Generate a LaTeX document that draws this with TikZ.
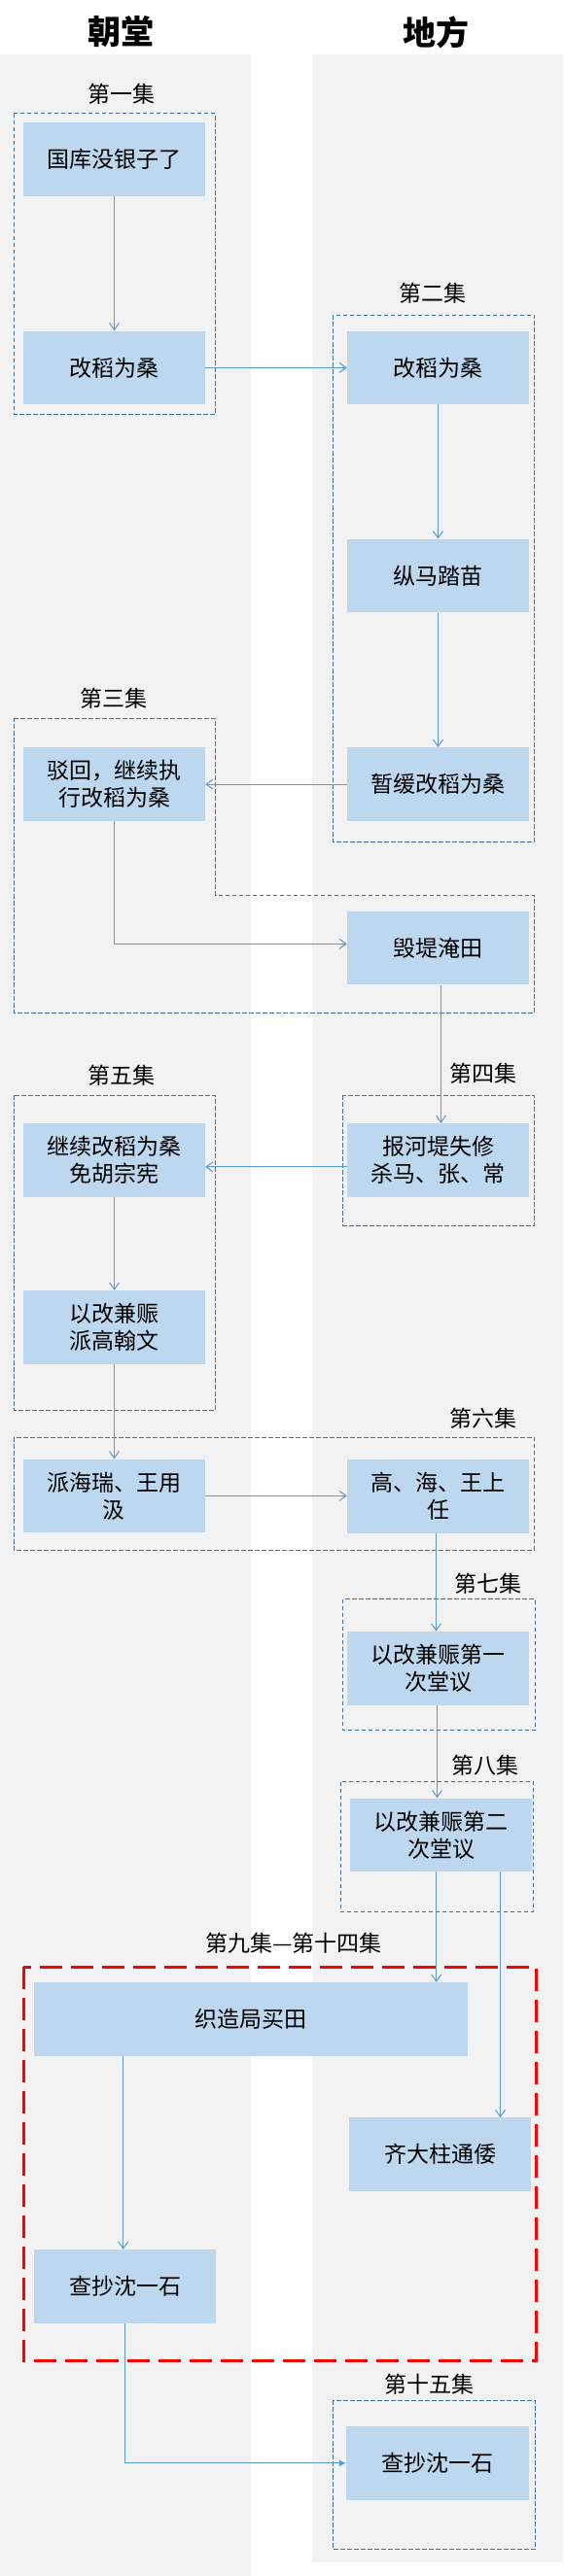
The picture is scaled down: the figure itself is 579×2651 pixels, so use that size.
\documentclass[tikz,border=0pt]{standalone}
\usepackage{fontspec}
\newfontfamily\cjk{Noto Sans CJK SC}
\usetikzlibrary{arrows.meta}
\definecolor{lanegray}{HTML}{F2F2F2}
\definecolor{boxblue}{HTML}{BDD7EE}
\definecolor{arrowblue}{HTML}{5B9BD5}
\definecolor{grpblue}{HTML}{41719C}
\tikzset{
  evbox/.style={fill=boxblue, draw=none, minimum width=187pt, minimum height=75.7pt, inner sep=0pt, align=center, font=\cjk\fontsize{23}{28}\selectfont},
  grp/.style={draw=grpblue, line width=1pt, dash pattern=on 4.5pt off 2.5pt},
  redgrp/.style={draw=red, line width=3pt, dash pattern=on 23pt off 9pt},
  flow/.style={draw=arrowblue, line width=1pt, -{Straight Barb[length=7pt,width=10pt]}},
  flowfill/.style={draw=arrowblue, line width=1pt, -{Latex[length=7pt,width=7pt]}},
  eplabel/.style={font=\cjk\fontsize{23}{28}\selectfont, inner sep=0pt},
  lanetitle/.style={font=\cjk\bfseries\fontsize{34}{40}\selectfont, inner sep=0pt},
  lane/.style={fill=lanegray, draw=none}
}
\begin{document}
\begin{tikzpicture}[x=1pt,y=-1pt]
\useasboundingbox (0,0) rectangle (579,2651);
\fill[white] (0,0) rectangle (579,2651);
% lanes
\path[lane] (0,56) rectangle (258,2651);
\path[lane] (320.5,56) rectangle (579,2636.7);
% titles
\node[lanetitle] (T1) at (124.5,33) {朝堂};
\node[lanetitle] (T2) at (448,33) {地方};
% group boxes
\draw[grp] (14.4,116.7) rectangle (221.6,426);
\draw[grp] (342,324) rectangle (549.5,866);
\draw[grp] (14.4,739.3) -- (221.6,739.3) -- (221.6,921) -- (549.5,921) -- (549.5,1042.3) -- (14.4,1042.3) -- cycle;
\draw[grp] (352.7,1127.3) rectangle (549.5,1261);
\draw[grp] (14.4,1127.3) rectangle (221.6,1451.3);
\draw[grp] (14.4,1479.3) rectangle (549.5,1595.3);
\draw[grp] (352.7,1645.7) rectangle (550.2,1780.7);
\draw[grp] (350.4,1833.7) rectangle (548.7,1967.3);
\draw[redgrp] (24,2024.3) rectangle (551,2429.3);
\draw[grp] (342.3,2470) rectangle (550.2,2623.3);
% episode labels
\node[eplabel] (L1) at (124.5,97) {第一集};
\node[eplabel] (L2) at (445,301.7) {第二集};
\node[eplabel] (L3) at (117.4,718.3) {第三集};
\node[eplabel] (L4) at (497.4,1105) {第四集};
\node[eplabel] (L5) at (124.5,1106.7) {第五集};
\node[eplabel] (L6) at (497.4,1459.3) {第六集};
\node[eplabel] (L7) at (502,1629.3) {第七集};
\node[eplabel] (L8) at (499,1816.7) {第八集};
\node[eplabel] (L9) at (302,2000) {第九集—第十四集};
\node[eplabel] (L15) at (441.3,2453.3) {第十五集};
% event boxes
\node[evbox] (A1) at (117.5,163.85) {国库没银子了};
\node[evbox] (A2) at (117.5,378.35) {改稻为桑};
\node[evbox] (B1) at (450.5,378.35) {改稻为桑};
\node[evbox] (B2) at (450.5,592.5) {纵马踏苗};
\node[evbox] (B3) at (450.5,807) {暂缓改稻为桑};
\node[evbox] (A3) at (117.5,807) {驳回，继续执\\行改稻为桑};
\node[evbox] (B4) at (450.5,975.5) {毁堤淹田};
\node[evbox] (B5) at (450.5,1193.85) {报河堤失修\\杀马、张、常};
\node[evbox] (A5) at (117.5,1193.85) {继续改稻为桑\\免胡宗宪};
\node[evbox] (A6) at (117.5,1365.85) {以改兼赈\\派高翰文};
\node[evbox] (A7) at (117.5,1539.35) {派海瑞、王用\\汲};
\node[evbox] (B7) at (450.5,1539.85) {高、海、王上\\任};
\node[evbox] (B8) at (450.5,1716.7) {以改兼赈第一\\次堂议};
\node[evbox] (B9) at (453.5,1888.35) {以改兼赈第二\\次堂议};
\node[evbox, minimum width=446pt] (A10) at (258,2077.85) {织造局买田};
\node[evbox] (B10) at (452.5,2217.15) {齐大柱通倭};
\node[evbox] (A11) at (128.5,2352.85) {查抄沈一石};
\node[evbox, minimum width=188pt] (B11) at (450,2534.85) {查抄沈一石};
% connectors
\draw[flow] (A1) -- (A2);
\draw[flow] (A2) -- (B1);
\draw[flow] (B1) -- (B2);
\draw[flow] (B2) -- (B3);
\draw[flow] (B3) -- (A3);
\draw[flow] (A3.south) |- ([yshift=4.2pt]B4.west);
\draw[flow] ([xshift=3pt]B4.south) -- ([xshift=3pt]B5.north);
\draw[flow] ([yshift=-7pt]B5.west) -- ([yshift=-7pt]A5.east);
\draw[flow] (A5) -- (A6);
\draw[flow] (A6) -- (A7);
\draw[flow] (A7.east) -- (A7.east -| B7.west);
\draw[flow] ([xshift=-2pt]B7.south) -- ([xshift=-2pt]B8.north);
\draw[flow] ([xshift=-1pt]B8.south) -- ([xshift=-1pt]B8.south |- B9.north);
\draw[flow] ([xshift=-4.8pt]B9.south) -- ([xshift=-4.8pt]B9.south |- A10.north);
\draw[flow] ([xshift=61pt]B9.south) -- ([xshift=61pt]B9.south |- B10.north);
\draw[flow] ([xshift=-1.8pt]A11.north |- A10.south) -- ([xshift=-1.8pt]A11.north);
\draw[flowfill] (A11.south) |- (B11.west);
\end{tikzpicture}
\end{document}
